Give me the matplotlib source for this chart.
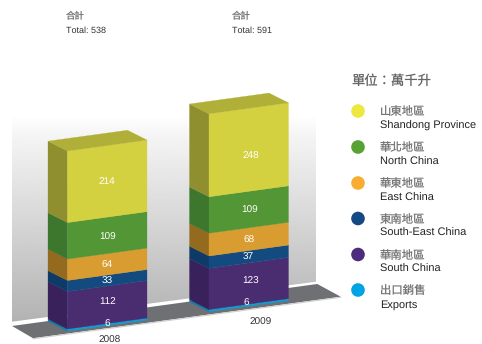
import numpy as np
import matplotlib
matplotlib.use("Agg")
import matplotlib.pyplot as plt
from matplotlib.patches import Polygon, Circle

plt.rcParams['font.family'] = ['Liberation Sans', 'Noto Sans CJK TC', 'DejaVu Sans']
plt.rcParams['text.hinting'] = 'no_hinting'
plt.rcParams['text.hinting_factor'] = 1

years = ['2008', '2009']
totals = [538, 591]
shandong = [214, 248]
north = [109, 109]
east = [64, 68]
south_east = [33, 37]
south = [112, 123]
exports = [6, 6]
# stacking order, bottom to top
stack = [exports, south, south_east, east, north, shandong]
front_colors = ['#0d9ed8', '#4a2d71', '#134a80', '#d99c30', '#529635', '#d3d140']
side_colors = ['#0b7fae', '#39225c', '#0e3a68', '#946a1e', '#3c772d', '#8f8f30']
top_color = '#b0af38'

legend_zh = ['山東地區', '華北地區', '華東地區', '東南地區', '華南地區', '出口銷售']
legend_en = ['Shandong Province', 'North China', 'East China', 'South-East China', 'South China', 'Exports']
legend_colors = ['#ece83f', '#57a233', '#f7ae30', '#134a84', '#4c2c7d', '#00a4e4']
legend_title = '單位：萬千升'
total_zh = '合計'

# per-label pixel nudges (dx, dy) for the value labels, one row per year
label_dx = [[0, 0, 0, 0, 0, 0], [-2, 1.5, -0.5, 0, 0.5, 2.5]]
label_dy = [[0, -3.7, 0.5, 1.2, 1.7, 0], [-2.2, -2.6, 0.9, 1.4, 0.3, 7]]

fig = plt.figure(figsize=(4.82, 3.44), dpi=100)
ax = fig.add_axes([0, 0, 1, 1])
ax.set_axis_off()

# Oblique projection: (category, value) to canvas pixels
SLOT = 141.5
X0, Y0 = 67.5, 331.0
SLOPE = 0.1375
V_SCALE = 0.3346
BAR_W = 79.5
DEPTH = (-19.5, -9.8)


def project(cat, val, across=0.0, depth=0.0):
    """Canvas position of a point on a bar: across runs along the front, depth runs backwards."""
    x = X0 + cat * SLOT + across * BAR_W + depth * DEPTH[0]
    y = Y0 - SLOPE * (cat * SLOT + across * BAR_W) - V_SCALE * val + depth * DEPTH[1]
    return x, y


# back wall with a vertical grey ramp, fading out towards the top
wall = Polygon([(12, 321.7), (316, 281.7), (316, 90), (12, 90)], closed=True,
               transform=ax.transData, fc='none', ec='none')
ax.add_patch(wall)
ramp_y = np.linspace(90, 322, 256)
ramp = np.interp(ramp_y, [90, 115, 135, 322], [1.0, 1.0, 0.96, 0.70])
img = ax.imshow(ramp[:, None], extent=[12, 316, 322, 90], cmap='gray', vmin=0, vmax=1,
                aspect='auto', zorder=1, interpolation='bilinear')
img.set_clip_path(wall)

# floor slab
ax.add_patch(Polygon([(12, 326), (317.3, 284), (340.7, 296.7), (33, 338.2)], closed=True,
                     fc='#6f7073', ec='none', zorder=2))
ax.plot([33, 340.7], [338.8, 297.3], color='#d0d0d0', lw=0.8, zorder=2)

# stacked oblique bars
for c, year in enumerate(years):
    base = 0.0
    for s, (seg, front, side) in enumerate(zip(stack, front_colors, side_colors)):
        v = seg[c]
        ax.add_patch(Polygon([project(c, base), project(c, base, depth=1),
                              project(c, base + v, depth=1), project(c, base + v)],
                             closed=True, fc=side, ec=side, lw=0.2, zorder=3))
        ax.add_patch(Polygon([project(c, base), project(c, base, 1),
                              project(c, base + v, 1), project(c, base + v)],
                             closed=True, fc=front, ec=front, lw=0.2, zorder=4))
        lx, ly = project(c, base + v / 2, 0.5)
        ax.text(lx + label_dx[c][s], ly + label_dy[c][s], str(v), color='white', fontsize=7.5,
                ha='center', va='center', zorder=6)
        base += v
    ax.add_patch(Polygon([project(c, base), project(c, base, 1),
                          project(c, base, 1, 1), project(c, base, 0, 1)],
                         closed=True, fc=top_color, ec=top_color, lw=0.2, zorder=4))

# year labels below the floor, totals along the top
for x, y, year in zip([109.5, 261], [340, 322.5], years):
    ax.text(x, y, year, color='#333333', fontsize=7.2, ha='center', va='center', zorder=6)
for x, total in zip([66, 232], totals):
    ax.text(x, 17, total_zh, color='#777777', fontsize=6.8, ha='left', va='center')
    ax.text(x, 30.5, f'Total: {total}', color='#333333', fontsize=6.8, ha='left', va='center')

# legend
ax.text(351, 81.5, legend_title, color='#666666', fontsize=9.6, ha='left', va='center')
for y, zh, en, col in zip([111, 147, 183, 218.5, 254.5, 290], legend_zh, legend_en, legend_colors):
    ax.add_patch(Circle((358, y), 6.8, fc=col, ec='none', zorder=5))
    ax.text(380, y + 1, zh, color='#777777', fontsize=8.2, ha='left', va='center')
    ax.text(380, y + 15, en, color='#222222', fontsize=8.2, ha='left', va='center')

ax.set_xlim(0, 482)
ax.set_ylim(344, 0)
fig.savefig('out.png', dpi=100)
